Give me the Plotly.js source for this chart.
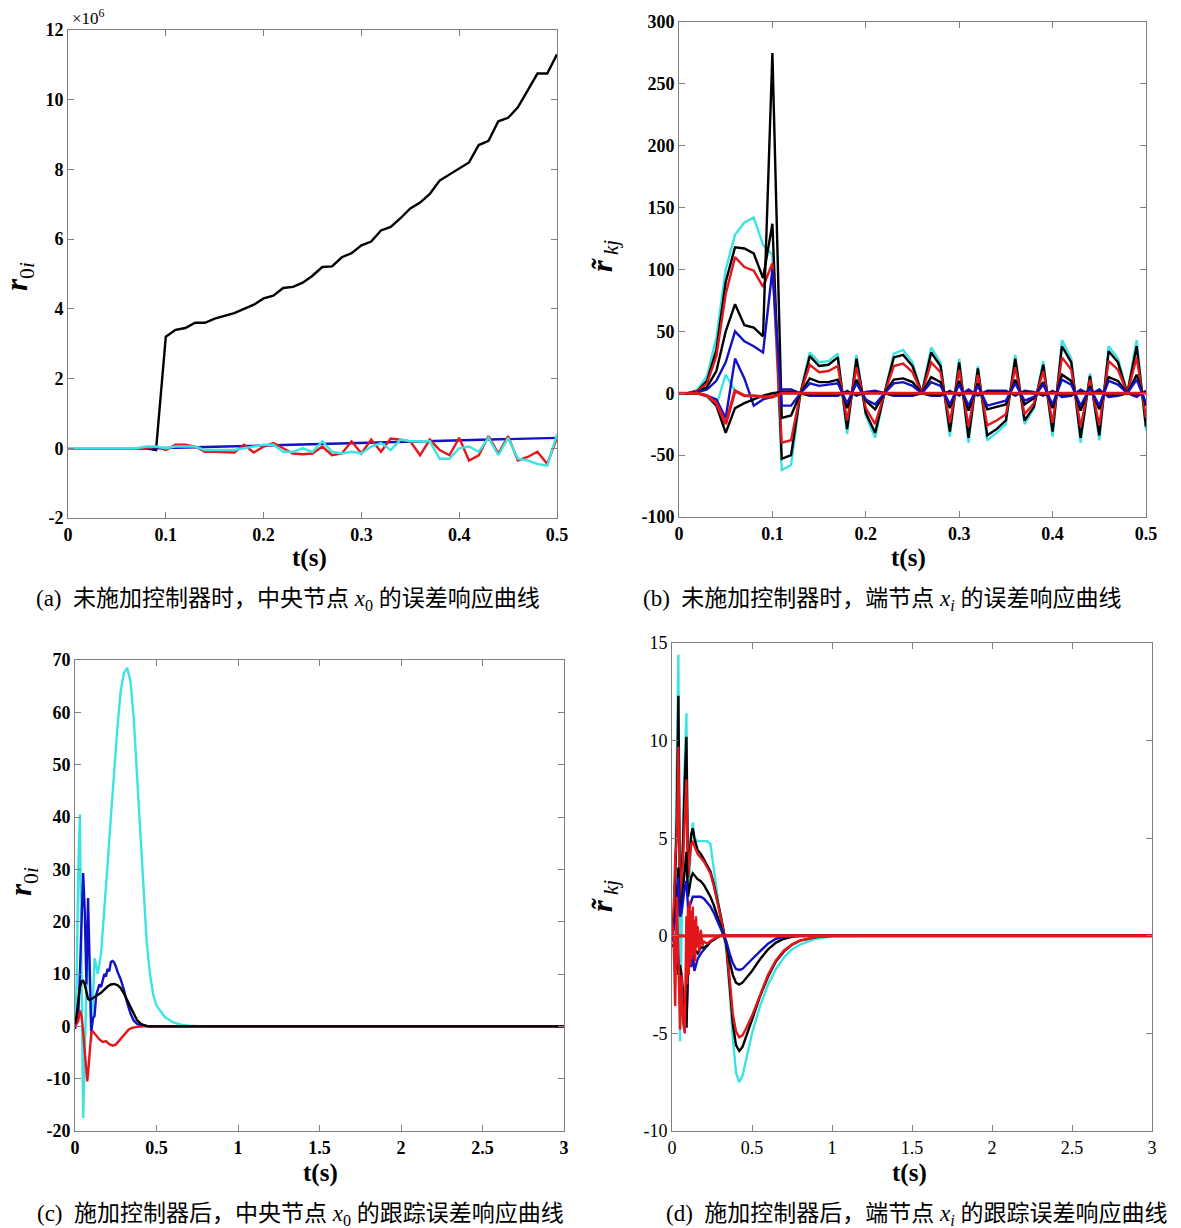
<!DOCTYPE html>
<html><head><meta charset="utf-8">
<script src="https://cdn.plot.ly/plotly-3.0.1.min.js"></script>
<style>body{margin:0;background:#fff}#chart{width:1181px;height:1228px}</style>
</head><body><div id="chart"></div>
<script>
// ---------- (a) ----------
const tA = [0,0.01,0.02,0.03,0.04,0.05,0.06,0.07,0.08,0.09,0.1,0.11,0.12,0.13,0.14,0.15,0.16,0.17,0.18,0.19,0.2,0.21,0.22,0.23,0.24,0.25,0.26,0.27,0.28,0.29,0.3,0.31,0.32,0.33,0.34,0.35,0.36,0.37,0.38,0.39,0.4,0.41,0.42,0.43,0.44,0.45,0.46,0.47,0.48,0.49,0.5];
const blackA = [0,0,0,0,0,0,0,0,0,-0.05,3.2,3.4,3.45,3.6,3.6,3.72,3.8,3.88,4.0,4.12,4.3,4.38,4.6,4.63,4.75,4.95,5.2,5.22,5.48,5.6,5.82,5.93,6.25,6.35,6.6,6.88,7.05,7.3,7.68,7.85,8.02,8.2,8.7,8.82,9.38,9.48,9.78,10.25,10.75,10.75,11.3];
const redA = [0,0,0,0,0,0,0,0,0,0.05,-0.05,0.1,0.1,0.05,-0.1,-0.1,-0.1,-0.12,0.1,-0.12,0.05,0.15,0.0,-0.15,-0.17,-0.15,0.05,-0.2,-0.15,0.2,-0.15,0.25,-0.1,0.28,0.25,0.2,-0.2,0.25,-0.05,-0.2,0.3,-0.35,-0.2,0.35,-0.15,0.35,-0.35,-0.25,-0.1,-0.45,0.3];
const cyanA = [0,0,0,0,0,0,0,0,0.05,0.05,0.0,0.05,0.05,0.05,-0.05,-0.05,-0.05,-0.05,0.0,0.05,0.1,0.1,-0.1,-0.1,0.0,-0.1,0.2,-0.1,-0.15,-0.1,-0.15,0.05,0.15,-0.05,0.25,0.2,0.2,0.2,-0.3,-0.3,0.0,0.05,-0.1,0.3,-0.2,0.3,-0.3,-0.35,-0.45,-0.5,0.4];
const tBlueA = [0,0.09,0.5];
const blueA = [0,0,0.3];

// ---------- (b) ----------
const tB = tA;
const cyan1B = [0,0,3,14,45,100,128,138,142,120,112,-62,-58,0,33,25,26,32,-33,31,-18,-36,0,32,35,25,0,37,25,-35,28,-40,22,-38,-32,-25,31,-25,-12,26,-35,43,28,-40,16,-38,38,28,0,43,-30];
const black1B = [0,0,2,10,35,90,118,117,113,93,137,-53,-50,0,30,22,23,29,-29,28,-16,-32,0,29,31,22,0,33,22,-31,25,-36,20,-34,-29,-22,28,-22,-11,23,-31,38,25,-36,14,-34,34,25,0,38,-27];
const red1B = [0,0,2,8,30,80,110,102,99,86,105,-40,-38,0,23,17,18,22,-22,21,-12,-25,0,22,24,17,0,25,17,-24,19,-27,15,-26,-22,-17,21,-17,-8,18,-24,29,19,-27,11,-26,26,19,0,29,-20];
const black2B = [0,0,1,5,18,50,72,55,53,46,275,-20,-18,0,12,9,9,11,-12,11,-6,-13,0,11,12,9,0,13,9,-12,10,-14,8,-13,-11,-9,11,-9,-4,9,-12,15,10,-14,6,-13,13,10,0,15,-10];
const blue1B = [0,0,1,3,10,25,50,42,38,33,100,-10,-10,0,8,6,7,8,-8,8,-5,-9,0,8,9,6,0,9,6,-9,7,-10,6,-10,-8,-6,8,-6,-3,7,-9,11,7,-10,4,-10,10,7,0,11,-8];
const blue2B = [0,0,0,-2,-5,-20,28,12,-10,-5,-3,3,3,0,-2,-2,-2,-2,2,-2,1,2,0,-2,-2,-2,0,-2,-2,2,-2,3,-2,2,2,2,-2,2,1,-2,2,-3,-2,3,-1,3,-3,-2,0,-3,2];
const black3B = [0,0,0,-2,-10,-32,-12,-8,-5,-2,0,1,1,0,-1,-1,-1,-1,1,-1,0,1,0,-1,-1,-1,0,-1,-1,1,-1,1,-1,1,1,1,-1,1,0,-1,1,-1,-1,1,0,1,-1,-1,0,-1,1];
const cyan2B = [0,0,0,-3,-10,15,2,-2,-2,-3,-3,0,0,0,0,0,0,0,0,0,0,0,0,0,0,0,0,0,0,0,0,0,0,0,0,0,0,0,0,0,0,0,0,0,0,0,0,0,0,0,0];
const red2B = [0,0,0,-2,-8,-25,2,-2,-2,-3,-3,0,0,0,0,0,0,0,0,0,0,0,0,0,0,0,0,0,0,0,0,0,0,0,0,0,0,0,0,0,0,0,0,0,0,0,0,0,0,0,0];

// ---------- (c) ----------
const tCyanC = [0,0.01,0.02,0.03,0.04,0.05,0.06,0.07,0.08,0.09,0.1,0.12,0.14,0.16,0.18,0.2,0.22,0.24,0.26,0.28,0.3,0.32,0.34,0.36,0.38,0.4,0.42,0.44,0.46,0.48,0.5,0.55,0.6,0.65,0.7,0.8,3];
const cyanC = [0,8,30,40.5,10,-17.5,-5,10,20,8,-3,13,10,14,22,31,40,49,57,64,67.5,68.5,66,59,48,36,25,16,10,6,4,1.8,0.8,0.3,0.1,0,0];
const tBlueC = [0,0.02,0.03,0.04,0.05,0.06,0.07,0.08,0.09,0.1,0.11,0.12,0.13,0.14,0.15,0.16,0.17,0.18,0.19,0.2,0.21,0.22,0.23,0.24,0.25,0.26,0.28,0.3,0.32,0.34,0.36,0.38,0.4,0.45,3];
const blueC = [-0.5,2,10,20,29.3,22,8,24.5,8,-1,1.5,2,6,7,8,7.5,9,10,9.5,11,10.5,12.3,12.5,12.2,11.5,10.5,9,7,4.5,2.5,1.1,0.5,0.2,0,0];
const tBlackC = [0,0.01,0.02,0.03,0.04,0.05,0.06,0.07,0.08,0.09,0.1,0.12,0.14,0.16,0.18,0.2,0.22,0.24,0.26,0.28,0.3,0.32,0.34,0.36,0.38,0.4,0.42,0.45,3];
const blackC = [0.5,2,5,7.5,8.6,8.7,8,6.5,5.2,5,5.2,5.5,5.9,6.4,7,7.6,8,8.1,7.9,7.3,6.3,5,3.5,2.2,1.2,0.6,0.25,0,0];
const tRedC = [0,0.01,0.02,0.03,0.04,0.05,0.06,0.07,0.075,0.08,0.09,0.1,0.11,0.13,0.15,0.17,0.19,0.21,0.23,0.25,0.27,0.29,0.31,0.33,0.35,0.38,0.42,3];
const redC = [0,0.5,1,3,2,-1,-5,-9,-10.5,-9,-4,-1.2,-1,-1.8,-2.5,-3,-2.8,-3.4,-3.7,-3.5,-2.8,-2,-1.2,-0.6,-0.3,-0.1,0,0];

// ---------- (d) ----------
const tD = [0,0.01,0.02,0.03,0.04,0.05,0.06,0.07,0.08,0.09,0.1,0.11,0.12,0.13,0.14,0.16,0.18,0.2,0.22,0.24,0.26,0.28,0.3,0.32,0.34,0.36,0.38,0.4,0.42,0.44,0.46,0.5,0.55,0.6,0.65,0.7,0.75,0.8,0.9,1.0,1.2,3.0];
const cyanD = [0,0.5,3,8,14.4,-5.4,2,6,9,11.4,2.5,3.2,5,5.8,5,4.85,4.85,4.85,4.85,4.7,3.6,2.3,1.1,0.2,-0.8,-2.8,-5.2,-7,-7.5,-7.2,-6.5,-5,-3.6,-2.5,-1.7,-1.1,-0.7,-0.45,-0.15,-0.02,0,0];
const black1D = [0,1,3,6,12.3,1,3,5,8,10.2,3,4.4,5.2,5.5,5,4.4,4.2,3.9,3.6,3.3,2.7,2,1.2,0.4,-0.5,-2.5,-4.5,-5.6,-5.9,-5.7,-5.2,-4.3,-3.1,-2.1,-1.3,-0.8,-0.45,-0.25,-0.07,0,0,0];
const red1D = [0,1,4,5,9.7,1,3,4,6,8,3,4,4.7,4.8,4.6,4.2,4,3.8,3.5,3.2,2.6,1.9,1.1,0.3,-0.5,-2.2,-4,-4.9,-5.2,-5.1,-4.8,-4.1,-3,-2,-1.25,-0.75,-0.45,-0.25,-0.07,0,0,0];
const black2D = [0,0.5,1,2,3.5,1,1.5,2.5,3.5,4.3,2,2.5,3,3.2,3.1,2.9,2.8,2.6,2.3,2,1.6,1.1,0.6,0.1,-0.4,-1.3,-2,-2.4,-2.5,-2.4,-2.2,-1.8,-1.2,-0.7,-0.35,-0.15,-0.05,0,0,0,0,0];
const blue1D = [0,0.3,0.8,1.5,3,1,1.2,2,2.5,2.8,1.5,1.5,1.8,2,2,2,2,1.9,1.7,1.5,1.2,0.8,0.4,0.1,-0.3,-0.9,-1.4,-1.7,-1.75,-1.7,-1.55,-1.2,-0.8,-0.4,-0.15,-0.05,0,0,0,0,0,0];
const blue2D = [0,-0.3,-0.5,-0.8,-1.2,-2,-2.5,-3,-4.5,-4.7,-2,-1.2,-1.6,-0.9,-1.8,-1.2,-0.9,-0.7,-0.5,-0.3,-0.2,-0.1,0,0,0,0,0,0,0,0,0,0,0,0,0,0,0,0,0,0,0,0];
const black3D = [-0.5,-0.5,-1,-1.5,-2,-1.5,-2,-3,-4,-4.7,-1,-0.9,-0.7,-0.8,-0.7,-0.9,-0.6,-0.6,-0.5,-0.3,-0.2,-0.1,0,0,0,0,0,0,0,0,0,0,0,0,0,0,0,0,0,0,0,0];
const tRedND = [0,0.01,0.02,0.03,0.04,0.05,0.06,0.07,0.08,0.09,0.095,0.1,0.105,0.11,0.115,0.12,0.125,0.13,0.135,0.14,0.145,0.15,0.155,0.16,0.17,0.18,0.19,0.2,0.22,0.25,0.3,3];
const redND = [0.8,0,-3.6,2,-1,-4.8,-2,-4.5,-5,1,-2.5,1.5,-2,1.8,-1.5,1.3,-1.2,1.5,-1,0.8,-1.3,1,-0.6,0.5,-0.8,0.3,-0.5,-0.3,-0.4,-0.2,0,0];
const tZeroD = [0,3];
const zeroD = [0,0];

// ---------- tick labels ----------
const xTicksAB = [0,0.1,0.2,0.3,0.4,0.5];
const xTickTextAB = ['0','0.1','0.2','0.3','0.4','0.5'];
const yTicksA = [-2,0,2,4,6,8,10,12];
const yTickTextA = ['-2','0','2','4','6','8','10','12'];
const yTicksB = [-100,-50,0,50,100,150,200,250,300];
const yTickTextB = ['-100','-50','0','50','100','150','200','250','300'];
const xTicksCD = [0,0.5,1,1.5,2,2.5,3];
const xTickTextCD = ['0','0.5','1','1.5','2','2.5','3'];
const yTicksC = [-20,-10,0,10,20,30,40,50,60,70];
const yTickTextC = ['-20','-10','0','10','20','30','40','50','60','70'];
const yTicksD = [-10,-5,0,5,10,15];
const yTickTextD = ['-10','-5','0','5','10','15'];

const captionA = '(a)  未施加控制器时，中央节点 <i>x</i><sub>0</sub> 的误差响应曲线';
const captionB = '(b)  未施加控制器时，端节点 <i>x<sub>i</sub></i> 的误差响应曲线';
const captionC = '(c)  施加控制器后，中央节点 <i>x</i><sub>0</sub> 的跟踪误差响应曲线';
const captionD = '(d)  施加控制器后，端节点 <i>x<sub>i</sub></i> 的跟踪误差响应曲线';

// ---------- build ----------
const W = 1181, H = 1228;
const fx = x => x / W, fy = y => 1 - y / H;
const C = {black:'#000000', red:'#e3161c', cyan:'#3de3e3', blue:'#1212c4'};
const LW = 2.4;
function ln(x, y, color, xa, ya, w) {
  return {type:'scatter', mode:'lines', x:x, y:y, xaxis:xa, yaxis:ya,
          line:{color:color, width:w || LW}, hoverinfo:'skip', showlegend:false};
}
const data = [
  ln(tA, blackA, C.black, 'x', 'y'),
  ln(tBlueA, blueA, C.blue, 'x', 'y'),
  ln(tA, redA, C.red, 'x', 'y'),
  ln(tA, cyanA, C.cyan, 'x', 'y'),

  ln(tB, cyan1B, C.cyan, 'x2', 'y2'),
  ln(tB, black1B, C.black, 'x2', 'y2'),
  ln(tB, red1B, C.red, 'x2', 'y2'),
  ln(tB, black2B, C.black, 'x2', 'y2'),
  ln(tB, blue1B, C.blue, 'x2', 'y2'),
  ln(tB, cyan2B, C.cyan, 'x2', 'y2'),
  ln(tB, blue2B, C.blue, 'x2', 'y2'),
  ln(tB, black3B, C.black, 'x2', 'y2'),
  ln(tB, red2B, C.red, 'x2', 'y2', 3.2),

  ln(tCyanC, cyanC, C.cyan, 'x3', 'y3'),
  ln(tBlueC, blueC, C.blue, 'x3', 'y3'),
  ln(tRedC, redC, C.red, 'x3', 'y3'),
  ln(tBlackC, blackC, C.black, 'x3', 'y3'),

  ln(tD, cyanD, C.cyan, 'x4', 'y4'),
  ln(tD, black1D, C.black, 'x4', 'y4'),
  ln(tD, red1D, C.red, 'x4', 'y4'),
  ln(tD, black2D, C.black, 'x4', 'y4'),
  ln(tD, blue1D, C.blue, 'x4', 'y4'),
  ln(tD, blue2D, C.blue, 'x4', 'y4'),
  ln(tD, black3D, C.black, 'x4', 'y4'),
  ln(tRedND, redND, C.red, 'x4', 'y4'),
  ln(tZeroD, zeroD, C.red, 'x4', 'y4', 3.2)
];

function ax(domain, range, vals, text, anchor, bold) {
  return {domain:domain, range:range, tickmode:'array', tickvals:vals, ticktext:text, anchor:anchor,
    showline:true, mirror:'ticks', linecolor:'#808080', linewidth:1,
    ticks:'inside', ticklen:6, tickwidth:1, tickcolor:'#808080',
    showgrid:false, zeroline:false, fixedrange:true,
    tickfont:{family:'Liberation Serif', size:18, color:'#000', weight: bold ? 'bold' : 'normal'}};
}
const serif = 'Liberation Serif, Noto Sans CJK SC';
function ann(text, x, y, size, extra) {
  return Object.assign({text:text, x:fx(x), y:fy(y), xref:'paper', yref:'paper', showarrow:false,
    xanchor:'center', yanchor:'middle', font:{family:serif, size:size, color:'#000'}}, extra || {});
}

const layout = {
  width: W, height: H, margin:{l:0, r:0, t:0, b:0},
  paper_bgcolor:'#fff', plot_bgcolor:'#fff', showlegend:false,
  xaxis:  ax([fx(68), fx(557)], [0, 0.5], xTicksAB, xTickTextAB, 'y', true),
  yaxis:  ax([fy(518), fy(30)], [-2, 12], yTicksA, yTickTextA, 'x', true),
  xaxis2: ax([fx(679), fx(1146)], [0, 0.5], xTicksAB, xTickTextAB, 'y2', true),
  yaxis2: ax([fy(517), fy(22)], [-100, 300], yTicksB, yTickTextB, 'x2', true),
  xaxis3: ax([fx(75), fx(564)], [0, 3], xTicksCD, xTickTextCD, 'y3', true),
  yaxis3: ax([fy(1131), fy(660)], [-20, 70], yTicksC, yTickTextC, 'x3', true),
  xaxis4: ax([fx(672), fx(1152)], [0, 3], xTicksCD, xTickTextCD, 'y4', false),
  yaxis4: ax([fy(1131), fy(643)], [-10, 15], yTicksD, yTickTextD, 'x4', false),
  annotations: [
    ann('×10<sup>6</sup>', 88, 17, 17),
    ann('<b>t(s)</b>', 309, 558, 25),
    ann('<b>t(s)</b>', 908, 558, 25),
    ann('<b>t(s)</b>', 320, 1173, 25),
    ann('<b>t(s)</b>', 909, 1173, 25),
    ann('<b><i>r</i></b><sub>0<i>i</i></sub>', 19, 276, 31, {textangle:-90}),
    ann('<b><i>r</i></b><sub>0<i>i</i></sub>', 23, 882, 31, {textangle:-90}),
    ann('<b><i>r̃</i></b><sub> <i>kj</i></sub>', 604, 256, 30, {textangle:-90}),
    ann('<b><i>r̃</i></b><sub> <i>kj</i></sub>', 604, 896, 30, {textangle:-90}),
    ann(captionA, 288, 600, 23),
    ann(captionB, 882, 600, 23),
    ann(captionC, 300, 1215, 23),
    ann(captionD, 917, 1215, 23)
  ]
};
Plotly.newPlot('chart', data, layout, {staticPlot:true, displayModeBar:false});
</script>
</body></html>
